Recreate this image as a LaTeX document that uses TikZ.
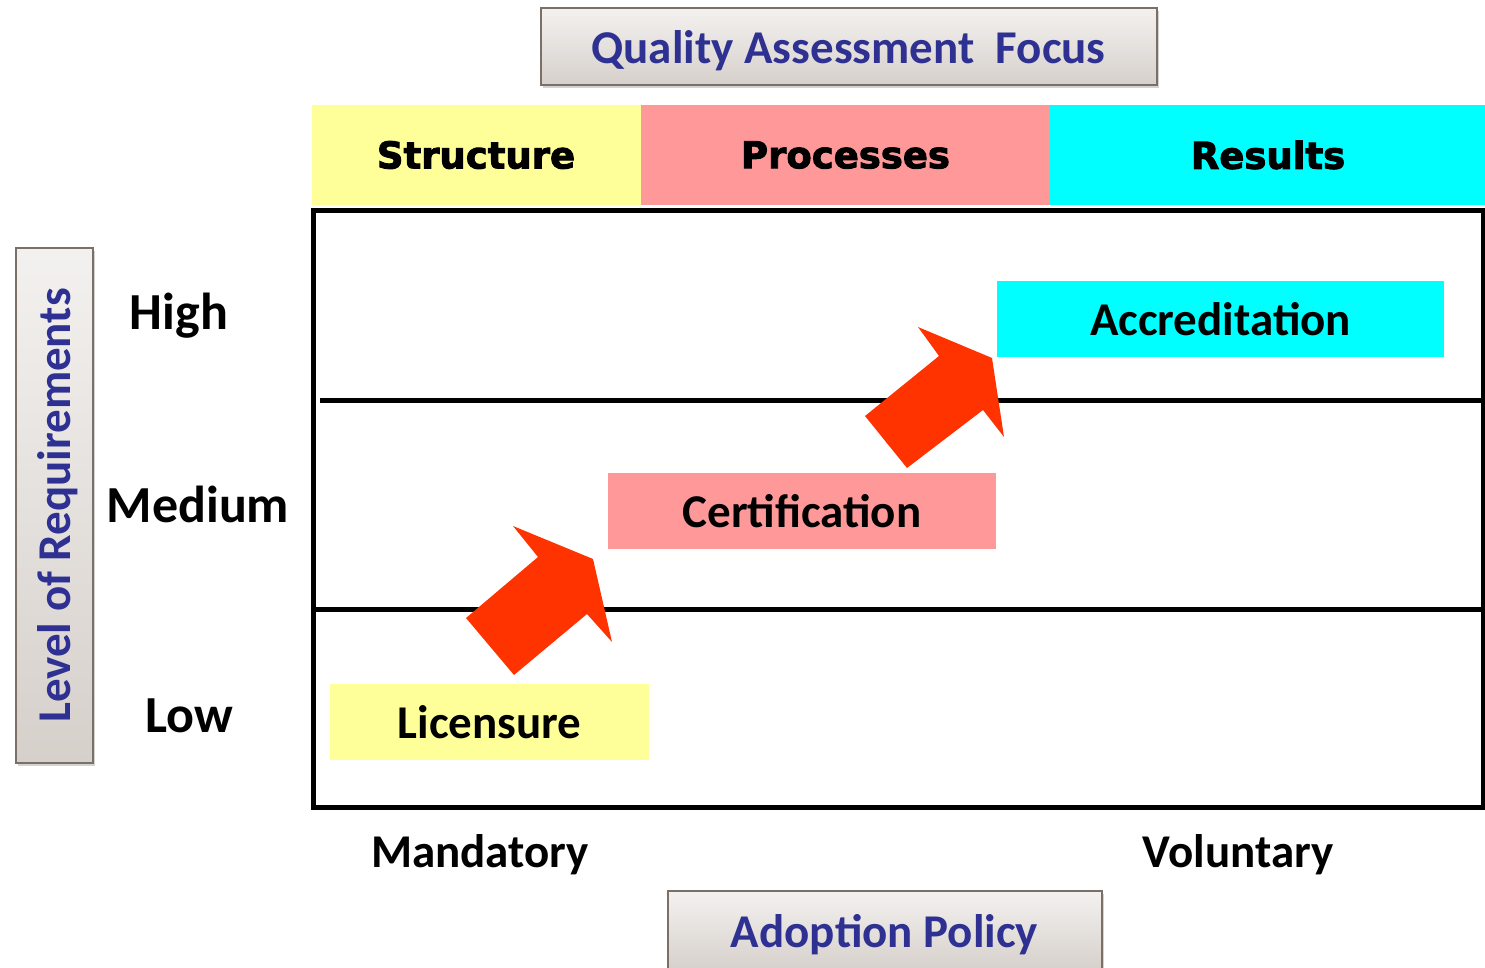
\documentclass[tikz,border=0pt]{standalone}
\usepackage{fontspec}
\setmainfont{Carlito}
\newfontfamily\headfont[BoldFeatures={FakeBold=2.5}]{DejaVu Sans}
\usetikzlibrary{shadows}

\definecolor{titleblue}{HTML}{2E3192}
\definecolor{boxedge}{HTML}{7A7068}
\definecolor{boxtop}{HTML}{F3F1EF}
\definecolor{boxbottom}{HTML}{D6D0CB}
\definecolor{lowyellow}{HTML}{FFFF99}
\definecolor{midpink}{HTML}{FF9999}
\definecolor{highcyan}{HTML}{00FFFF}
\definecolor{steparrow}{HTML}{FF3300}

\begin{document}
\begin{tikzpicture}[x=1pt,y=1pt,yscale=-1,xscale=1,
    captionbox/.style={draw=boxedge, line width=2, top color=boxtop, bottom color=boxbottom,
        drop shadow={opacity=0.35, shadow xshift=2pt, shadow yshift=-3pt},
        text=titleblue, font=\fontsize{47}{50}\selectfont\bfseries, inner sep=0pt, text depth=0pt},
    headcell/.style={inner sep=0pt, font=\headfont\fontsize{37}{40}\selectfont\bfseries},
    levelbox/.style={inner sep=0pt, font=\fontsize{47}{50}\selectfont\bfseries},
    rowlabel/.style={inner sep=0.75pt, font=\fontsize{52}{55}\selectfont\bfseries},
    axislabel/.style={inner sep=0.75pt, font=\fontsize{47}{50}\selectfont\bfseries}]
    \useasboundingbox (0,0) rectangle (1485,968); %page size

    % Title boxes
    \node (focus) [captionbox, minimum width=616, minimum height=77] at (848.5,47) {Quality Assessment~ Focus};
    \node (policy) [captionbox, minimum width=434, minimum height=80] at (884.5,931) {Adoption Policy};
    \node (level) [captionbox, minimum width=514, minimum height=77, rotate=90] at (54,505.5) {Level of Requirements};

    % Header cells
    \node (structure) [headcell, fill=lowyellow, minimum width=329, minimum height=100] at (476,155) {Structure};
    \node (processes) [headcell, fill=midpink, minimum width=410, minimum height=100] at (845.5,155) {Processes};
    \node (results) [headcell, fill=highcyan, minimum width=436, minimum height=100] at (1268,155) {Results};

    %Shape: Rectangle
    \draw [line width=5] (313,211) rectangle (1483,807);
    %Straight Lines
    \draw [line width=5] (320,400) -- (1483,400);
    %Straight Lines
    \draw [line width=5] (313,609) -- (1483,609);

    % Row labels
    \node (high) [rowlabel] at (179,316) {High};
    \node (medium) [rowlabel] at (198,504) {Medium};
    \node (low) [rowlabel] at (189,716) {Low};

    % Level boxes
    \node (licensure) [levelbox, fill=lowyellow, minimum width=319, minimum height=76] at (489.5,722) {Licensure};
    \node (certification) [levelbox, fill=midpink, minimum width=388, minimum height=76] at (802,511) {Certification};
    \node (accreditation) [levelbox, fill=highcyan, minimum width=447, minimum height=76] at (1220.5,319) {Accreditation};

    %Shape: Up Arrow
    \fill [steparrow] (466,618) -- (514,675) -- (587,614) -- (612,642) -- (593,559) -- (513,526) -- (538,557) -- cycle;
    %Shape: Up Arrow
    \fill [steparrow] (865,416) -- (907,468) -- (983,410) -- (1004,437) -- (992,358) -- (918,327) -- (939,356) -- cycle;

    % Axis labels
    \node (mandatory) [axislabel] at (480,855) {Mandatory};
    \node (voluntary) [axislabel] at (1238,855) {Voluntary};

\end{tikzpicture}
\end{document}
